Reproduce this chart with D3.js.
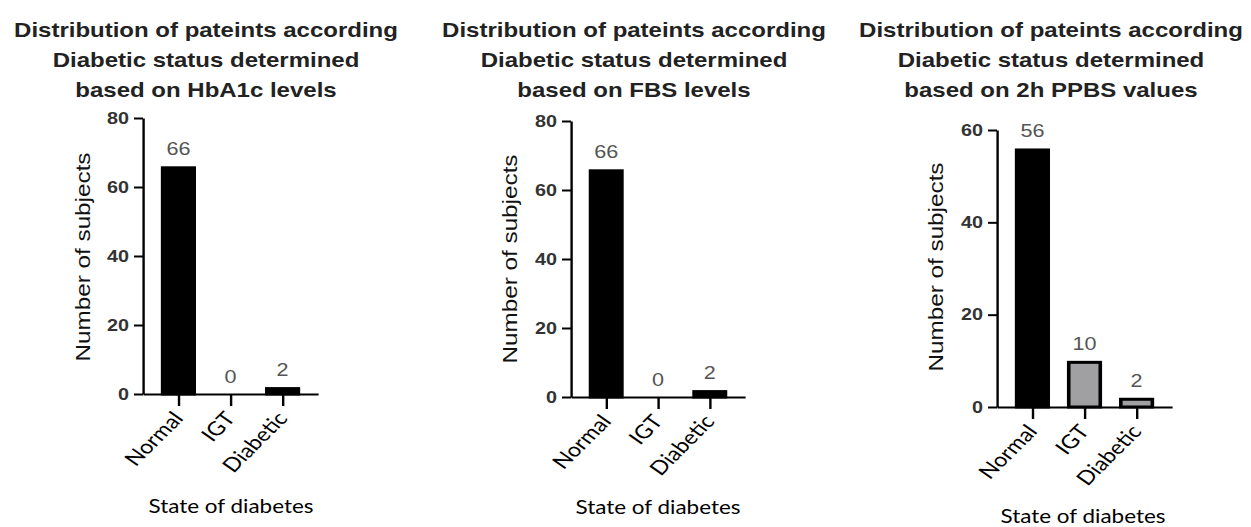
<!DOCTYPE html>
<html><head><meta charset="utf-8">
<script src="https://cdn.jsdelivr.net/npm/d3@7"></script>
<style>html,body{margin:0;padding:0;background:#fff;overflow:hidden}</style>
</head><body>
<svg id="chart" width="1251" height="527"></svg>
<script>
// ---- data ----
const categories = ["Normal", "IGT", "Diabetic"];
const hba1cCounts = [66, 0, 2];
const fbsCounts = [66, 0, 2];
const ppbsCounts = [56, 10, 2];
const titleHbA1c = ["Distribution of pateints according", "Diabetic status determined", "based on HbA1c levels"];
const titleFBS = ["Distribution of pateints according", "Diabetic status determined", "based on FBS levels"];
const titlePPBS = ["Distribution of pateints according", "Diabetic status determined", "based on 2h PPBS values"];
const yTicks80 = [0, 20, 40, 60, 80];
const yTicks60 = [0, 20, 40, 60];
const yLabel = "Number of subjects";
const xLabel = "State of diabetes";

// ---- layout (pixel positions) ----
const SX = 1.2, W = 1251, H = 527;
const svg = d3.select("#chart")
  .attr("viewBox", `0 0 ${W / SX} ${H}`)
  .attr("preserveAspectRatio", "none");

const panels = [
  { title: titleHbA1c, counts: hba1cCounts, ticks: yTicks80, fills: ["#000", "#000", "#000"],
    ax: 143, y0: 394, yTop: 118, xEnd: 318, tcx: 206, ylx: 90, yly: 257, xlx: 231, xly: 513 },
  { title: titleFBS, counts: fbsCounts, ticks: yTicks80, fills: ["#000", "#000", "#000"],
    ax: 571, y0: 397, yTop: 121, xEnd: 745, tcx: 634, ylx: 517, yly: 259, xlx: 658, xly: 514 },
  { title: titlePPBS, counts: ppbsCounts, ticks: yTicks60, fills: ["#000", "#a0a0a3", "#a0a0a3"],
    ax: 997, y0: 407, yTop: 130, xEnd: 1172, tcx: 1051, ylx: 943, yly: 267, xlx: 1083, xly: 523 }
];

const sw = 3;
panels.forEach(p => {
  const g = svg.append("g");
  const y = d3.scaleLinear().domain([0, d3.max(p.ticks)]).range([p.y0, p.yTop]);
  const x = d3.scalePoint().domain(categories).range([p.ax / SX, p.xEnd / SX]).padding(0.68);
  const bw = x.step() * 0.675;

  // title
  g.append("text")
    .attr("font-family", "'Liberation Sans', Arial, sans-serif")
    .attr("font-weight", "bold").attr("font-size", 20).attr("fill", "#222")
    .attr("text-anchor", "middle")
    .selectAll("tspan").data(p.title).join("tspan")
    .attr("x", p.tcx / SX).attr("y", (d, i) => 37 + i * 30).text(d => d);

  // bars
  const rows = categories.map((c, i) => ({ c, v: p.counts[i], f: p.fills[i] }));
  g.append("g").selectAll("rect").data(rows).join("rect")
    .attr("x", d => x(d.c) - bw / 2 + sw / 2)
    .attr("width", bw - sw)
    .attr("y", d => y(d.v) + sw / 2)
    .attr("height", d => Math.max(0, y(0) - y(d.v) - sw / 2))
    .attr("fill", d => d.f).attr("stroke", "#000").attr("stroke-width", sw);

  // value labels
  g.append("g").selectAll("text").data(rows).join("text")
    .attr("x", d => x(d.c)).attr("y", d => y(d.v) - 11)
    .attr("text-anchor", "middle")
    .attr("font-family", "'Liberation Sans', Arial, sans-serif")
    .attr("font-size", 18).attr("fill", "#555")
    .text(d => d.v);

  // y axis
  const ya = g.append("g").attr("transform", `translate(${p.ax / SX},0)`)
    .call(d3.axisLeft(y).tickValues(p.ticks).tickSize(9 / SX).tickSizeOuter(0).tickPadding(5 / SX));
  ya.selectAll("path,line").attr("stroke", "#000").attr("stroke-width", 2);
  ya.selectAll("text").attr("font-family", "'Liberation Sans', Arial, sans-serif")
    .attr("font-weight", "bold").attr("font-size", 16.5).attr("fill", "#333");

  // x axis
  const xa = g.append("g").attr("transform", `translate(0,${p.y0})`)
    .call(d3.axisBottom(x).tickSize(12).tickSizeOuter(0).tickFormat(""));
  xa.selectAll("path,line").attr("stroke", "#000").attr("stroke-width", 2);
  xa.selectAll("text").remove();

  // category labels
  g.append("g").selectAll("text").data(categories).join("text")
    .attr("transform", d => `translate(${x(d) + 6 / SX},${p.y0 + 25}) rotate(-50)`)
    .attr("text-anchor", "end")
    .attr("font-family", "Lato, 'Liberation Sans', sans-serif")
    .attr("font-size", 19.5).attr("fill", "#000")
    .text(d => d);

  // y label
  g.append("text")
    .attr("transform", `translate(${p.ylx / SX},${p.yly}) rotate(-90)`)
    .attr("x", -104.5).attr("textLength", 209).attr("lengthAdjust", "spacingAndGlyphs")
    .attr("font-family", "'Liberation Sans', Arial, sans-serif")
    .attr("font-size", 16.5).attr("fill", "#111")
    .text(yLabel);

  // x label
  g.append("text")
    .attr("x", p.xlx / SX - 68.75).attr("y", p.xly)
    .attr("textLength", 137.5).attr("lengthAdjust", "spacingAndGlyphs")
    .attr("font-family", "Lato, 'Liberation Sans', sans-serif")
    .attr("font-size", 19.5).attr("fill", "#000")
    .text(xLabel);
});
</script>
</body></html>
